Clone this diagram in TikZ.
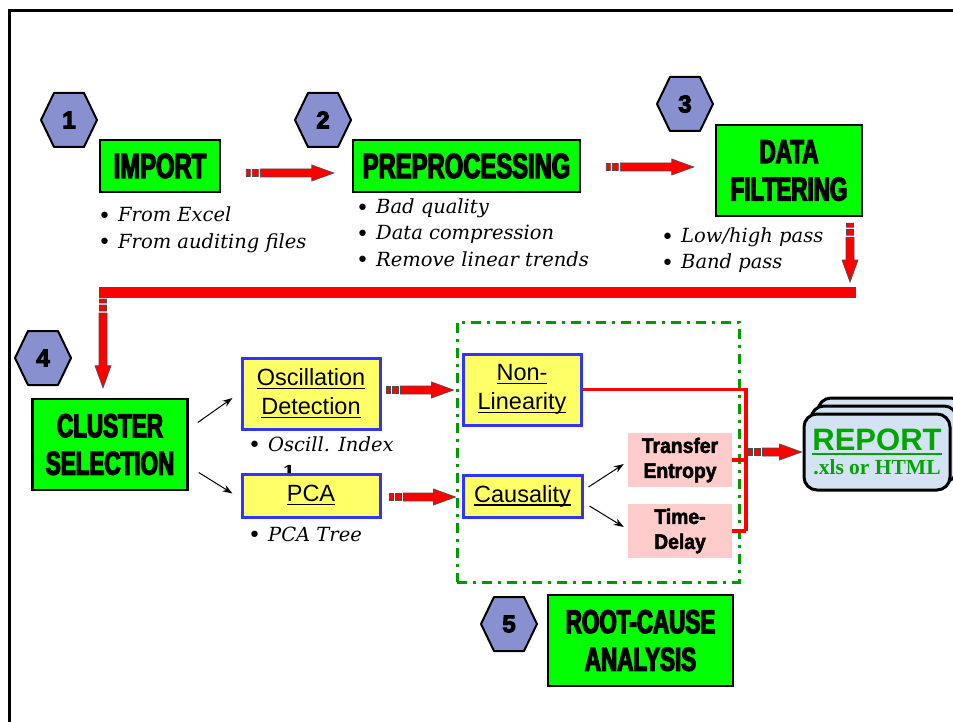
\documentclass[tikz,border=0pt]{standalone}
\usepackage{fontspec}
\usetikzlibrary{calc,arrows.meta}
\setmainfont{Liberation Sans}
\newfontfamily\impactf{Liberation Sans Bold}[FakeStretch=0.68]
\newfontfamily\arialf{Liberation Sans}
\newfontfamily\bookf{DejaVu Serif}
\newfontfamily\timesf{Liberation Serif}
\newfontfamily\hexf{Liberation Sans Bold}
\newfontfamily\pinkf{Liberation Sans Bold}[FakeStretch=0.92]
\newcommand\heavy[1]{\special{pdf:literal direct 2 Tr #1 w}}
\definecolor{boxgreen}{RGB}{0,255,0}
\definecolor{boxyellow}{RGB}{255,255,102}
\definecolor{boxblue}{RGB}{51,51,255}
\definecolor{boxpink}{RGB}{255,204,204}
\definecolor{hexblue}{RGB}{136,144,208}
\definecolor{dashgreen}{RGB}{0,153,0}
\definecolor{repgreen}{RGB}{0,165,0}
\definecolor{repblue}{RGB}{212,227,244}
\newcommand\uln[3]{\sbox0{#3}\rlap{\rule[#1]{\wd0}{#2}}\usebox0}
\tikzset{
  greenbox/.style={draw=black, line width=2.5pt, fill=boxgreen, inner sep=0pt, align=center,
    font=\impactf\fontsize{33}{37.5}\selectfont\heavy{1.3}},
  yelbox/.style={draw=boxblue, line width=3pt, fill=boxyellow, inner sep=0pt, align=center,
    font=\arialf\fontsize{23.5}{29}\selectfont},
  pinkbox/.style={fill=boxpink, inner sep=0pt, align=center, minimum width=104, minimum height=54,
    font=\pinkf\fontsize{21}{25}\selectfont\heavy{0.5}},
  hexdraw/.style={draw=black, line width=2pt, fill=hexblue, line join=round},
  hexnum/.style={inner sep=0pt, font=\hexf\fontsize{24}{24}\selectfont\heavy{1}},
  fatstyle/.style={fill=red, draw=black!70, line width=0.7pt},
  thinarr/.style={-{Stealth[length=10pt,width=7pt]}, line width=1pt},
  redline/.style={draw=red, line width=3.5pt},
  bultxt/.style={inner sep=0pt, anchor=base west, font=\bookf\fontsize{19.5}{26}\selectfont},
  dashframe/.style={draw=dashgreen, line width=3pt, dash pattern=on 10pt off 6pt on 3pt off 6pt},
  repbox/.style={draw=black, line width=3pt, fill=repblue, rounded corners=13pt,
    minimum width=146, minimum height=76, inner sep=0pt, align=center},
}
\newcommand\hfat[2]{%
  \path[fatstyle] let \p1=#1, \p2=#2 in
    (\x1,\y1-3.5pt) rectangle (\x1+4pt,\y1+3.5pt)
    (\x1+6pt,\y1-3.5pt) rectangle (\x1+12pt,\y1+3.5pt)
    (\x1+14pt,\y1-4pt) -- (\x2-22pt,\y1-4pt) -- (\x2-22pt,\y1-8pt) -- (\x2,\y1)
    -- (\x2-22pt,\y1+8pt) -- (\x2-22pt,\y1+4pt) -- (\x1+14pt,\y1+4pt) -- cycle;}
\newcommand\vfat[2]{%
  \path[fatstyle] let \p1=#1, \p2=#2 in
    (\x1-3.5pt,\y1) rectangle (\x1+3.5pt,\y1-4pt)
    (\x1-3.5pt,\y1-6pt) rectangle (\x1+3.5pt,\y1-12pt)
    (\x1-4pt,\y1-14pt) -- (\x1-4pt,\y2+22pt) -- (\x1-8pt,\y2+22pt) -- (\x1,\y2)
    -- (\x1+8pt,\y2+22pt) -- (\x1+4pt,\y2+22pt) -- (\x1+4pt,\y1-14pt) -- cycle;}
\newcommand\hexnode[4]{%
  \draw[hexdraw] (#2-28,#3) -- (#2-15,#3-27) -- (#2+15,#3-27) -- (#2+28,#3)
    -- (#2+15,#3+27) -- (#2-15,#3+27) -- cycle;
  \node[hexnum] (#1) at (#2,#3) {#4};}
\newcommand\bul[4]{\node[bultxt] (#1) at (#2,#3) {\raisebox{-1.2pt}{\fontsize{22}{26}\selectfont •}\hspace{7pt}\itshape #4};}
\begin{document}
\begin{tikzpicture}[x=1pt,y=-1pt]
\useasboundingbox (0,0) rectangle (953,722);
\clip (0,0) rectangle (953,722);
\fill[white] (0,0) rectangle (953,722);
% frame
\draw[line width=3pt] (9,730) -- (9,11) -- (960,11);

% green dash-dot frame
\node[dashframe, minimum width=282, minimum height=260] (rca) at (598,452) {};

% hexagons
\hexnode{h1}{69}{120}{1}
\hexnode{h2}{323}{120}{2}
\hexnode{h3}{685}{104}{3}
\hexnode{h4}{43}{358}{4}
\hexnode{h5}{509}{624}{5}

% main green boxes
\node[greenbox, minimum width=120, minimum height=52, font=\impactf\fontsize{35}{37.5}\selectfont\heavy{1.3}] (import) at (160,166) {IMPORT};
\node[greenbox, minimum width=227, minimum height=52, font=\impactf\fontsize{35}{37.5}\selectfont\heavy{1.3}] (prep) at (466.5,166) {PREPROCESSING};
\node[greenbox, minimum width=146, minimum height=91] (filt) at (789,170.5) {DATA\\FILTERING};
\node[greenbox, minimum width=155, minimum height=91] (cluster) at (110,444.5) {CLUSTER\\SELECTION};
\node[greenbox, minimum width=185, minimum height=91] (rootc) at (640.5,640.5) {ROOT-CAUSE\\ANALYSIS};

% bullets
\bul{ba1}{98}{222}{From Excel}
\bul{ba2}{98}{248}{From auditing files}
\bul{bb1}{356}{214}{Bad quality}
\bul{bb2}{356}{240}{Data compression}
\bul{bb3}{356}{266}{Remove linear trends}
\bul{bc1}{661}{243}{Low/high pass}
\bul{bc2}{661}{269}{Band pass}
\bul{bd1}{248}{451}{Oscill. Index}
\node[bultxt, anchor=base, font=\bookf\bfseries\fontsize{19}{26}\selectfont] (one) at (289,479) {1};
\bul{be1}{248}{541}{PCA Tree}

% yellow boxes
\node[yelbox, minimum width=138, minimum height=71] (osc) at (311,393.5)
  {\uln{-3.5pt}{1.3pt}{Oscillation}\\\uln{-3.5pt}{1.3pt}{Detection}};
\node[yelbox, minimum width=138, minimum height=43] (pca) at (311,495.5) {\uln{-3.5pt}{1.3pt}{PCA}};
\node[yelbox, minimum width=118, minimum height=71] (nonlin) at (522,389.5)
  {\uln{-3.5pt}{1.3pt}{Non-}\\\uln{-3.5pt}{1.3pt}{Linearity}};
\node[yelbox, minimum width=119, minimum height=42] (caus) at (522.5,496) {\uln{-3.5pt}{1.3pt}{Causality}};

% pink boxes
\node[pinkbox] (transfer) at (680,460) {Transfer\\Entropy};
\node[pinkbox] (timed) at (680,531) {Time-\\Delay};

% report stack
\node[repbox] (rep3) at (891,436) {};
\node[repbox] (rep2) at (884,444) {};
\node[repbox] (report) at (877,452)
  {{\arialf\bfseries\fontsize{31}{31}\selectfont\color{repgreen}\uln{-4.5pt}{2.5pt}{REPORT}}\\[3pt]
   {\timesf\bfseries\fontsize{21.5}{21}\selectfont\color{repgreen}.xls or HTML}};

% thin arrows
\draw[thinarr] ($(cluster.east)+(9,-22)$) -- ($(osc.west)+(-8,4.5)$);
\draw[thinarr] ($(cluster.east)+(10,28)$) -- ($(pca.west)+(-8,-2)$);
\draw[thinarr] ($(caus.east)+(5,-9)$) -- ($(transfer.west)+(-4,4)$);
\draw[thinarr] ($(caus.east)+(6,10)$) -- ($(timed.west)+(-4,-4)$);

% red connector lines
\coordinate (jx) at (746,389.5);
\draw[redline] (nonlin.east) -- (jx) -- (jx |- timed.east);
\draw[redline] (transfer.east) -- (transfer.east -| jx);
\draw[redline] (timed.east) -- (timed.east -| jx);

% big bar
\coordinate (barL) at (99,292);
\coordinate (barR) at (855,292);
\draw[fatstyle] ($(barL)+(0,-5)$) rectangle ($(barR)+(0,5)$);

% fat arrows
\hfat{($(import.east)+(25,7)$)}{($(prep.west)+(-18,7)$)}
\hfat{($(prep.east)+(25,1)$)}{($(filt.west)+(-21,-3.5)$)}
\vfat{($(filt.south)+(61,6)$)}{($(barR)+(-5,-10)$)}
\vfat{($(barL)+(4,7)$)}{($(cluster.north)+(-7,-10)$)}
\hfat{($(osc.east)+(5,-3.5)$)}{($(nonlin.west)+(-8,0.5)$)}
\hfat{($(pca.east)+(8,1.5)$)}{($(caus.west)+(-6,1)$)}
\hfat{($(report.west)+(-54,0)$)}{($(report.west)+(-1,0)$)}
\end{tikzpicture}
\end{document}
